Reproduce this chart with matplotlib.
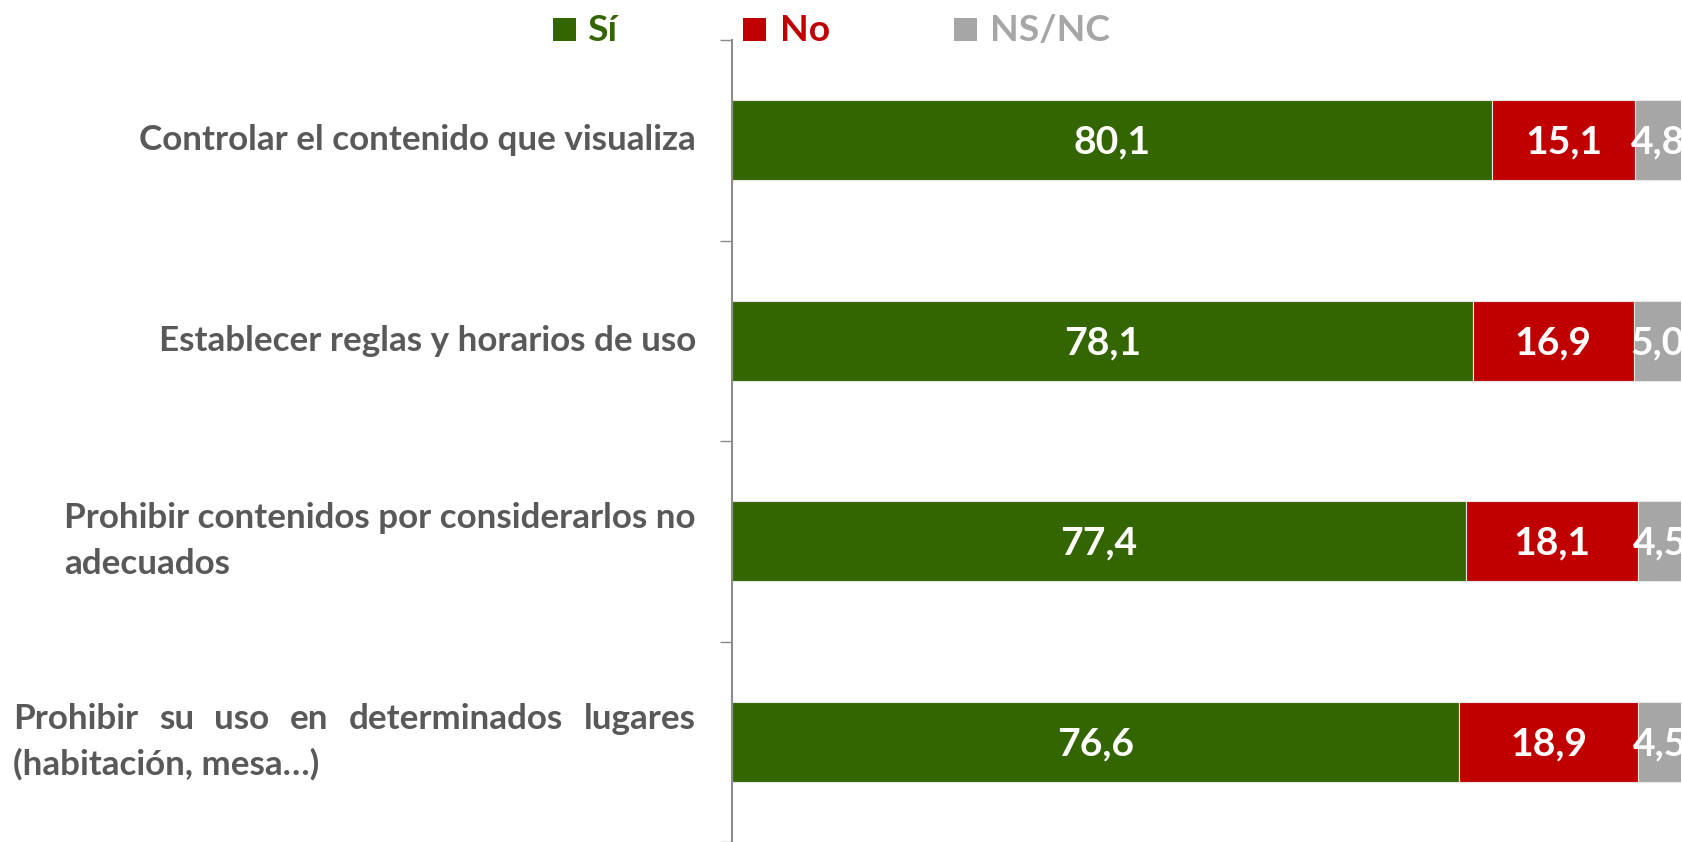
import matplotlib
matplotlib.use("Agg")
import matplotlib.pyplot as plt
import matplotlib.transforms as mtrans
from matplotlib.patches import Rectangle

# ---------------- data ----------------
label_lines = [
    ["Controlar el contenido que visualiza"],
    ["Establecer reglas y horarios de uso"],
    ["Prohibir contenidos por considerarlos no", "adecuados"],
    ["Prohibir su uso en determinados lugares", "(habitación, mesa…)"],
]
justify_first = [False, False, False, True]
si = [80.1, 78.1, 77.4, 76.6]
no = [15.1, 16.9, 18.1, 18.9]
nsnc = [4.8, 5.0, 4.5, 4.5]
series_names = ["Sí", "No", "NS/NC"]

# ---------------- style ----------------
W, H, DPI = 1682, 842, 100
FONT = "Lato"
C_SI, C_NO, C_NS = "#336600", "#C00000", "#A6A6A6"
C_LAB = "#595959"
C_AX = "#8C8C8C"

fig = plt.figure(figsize=(W / DPI, H / DPI), dpi=DPI)
renderer = fig.canvas.get_renderer()
ID = mtrans.IdentityTransform()


def text_width(s, size):
    t = fig.text(0, 0, s, fontsize=size, family=FONT, fontweight="bold")
    w = t.get_window_extent(renderer).width
    t.remove()
    return w


def fit(s, target):
    return 20 * target / text_width(s, 20)


lab_size = fit("Controlar el contenido que visualiza", 556)
val_size = fit("80,1", 72) * 1.08
leg_size = fit("NS/NC", 114) * 1.05

# ---------------- axes ----------------
ax_left, ax_right = 731.7, 1681.0
ax_top = 40.0
ax = fig.add_axes([ax_left / W, 0, (ax_right - ax_left) / W, (H - ax_top) / H])
n = len(si)
y = list(range(n))
left_no = [a for a in si]
left_ns = [a + b for a, b in zip(si, no)]
ec = "#E6E6E6"
ax.barh(y, si, height=0.4, color=C_SI, edgecolor=ec, linewidth=0.8)
ax.barh(y, no, left=left_no, height=0.4, color=C_NO, edgecolor=ec, linewidth=0.8)
ax.barh(y, nsnc, left=left_ns, height=0.4, color=C_NS, edgecolor=ec, linewidth=0.8)
ax.set_xlim(0, 100)
ax.set_ylim(n - 0.5, -0.5)
ax.set_yticks([i - 0.5 for i in range(n + 1)])
ax.set_yticklabels([])
ax.tick_params(axis="y", length=8.6, width=1.0, color=C_AX, direction="out")
ax.xaxis.set_visible(False)
for s in ["top", "right", "bottom"]:
    ax.spines[s].set_visible(False)
ax.spines["left"].set_color(C_AX)
ax.spines["left"].set_linewidth(1.5)
ax.patch.set_alpha(0)

# value labels
digit_h = 27
off = mtrans.offset_copy(ax.transData, fig=fig, x=0, y=-digit_h / 2, units="dots")
for i in range(n):
    segs = [(0, si[i]), (left_no[i], no[i]), (left_ns[i], nsnc[i])]
    for (l, v) in segs:
        ax.text(l + v / 2, i, f"{v:.1f}".replace(".", ","), transform=off,
                ha="center", va="baseline", color="white", fontsize=val_size,
                family=FONT, fontweight="bold")

# ---------------- category labels ----------------
lab_right = 696.0
lab_left_just = 13.0
cap_h = 20
line_gap = 46
for i, lines in enumerate(label_lines):
    cy_disp = ax.transData.transform((0, i))[1]
    nl = len(lines)
    baselines = [cy_disp - cap_h / 2 + (nl - 1) * line_gap / 2 - k * line_gap for k in range(nl)]
    if justify_first[i]:
        words = lines[0].split(" ")
        widths = [text_width(w, lab_size) for w in words]
        gap = (lab_right - lab_left_just - sum(widths)) / (len(words) - 1)
        x = lab_left_just
        for w, ww in zip(words, widths):
            fig.text(x, baselines[0], w, transform=ID, ha="left", va="baseline",
                     fontsize=lab_size, family=FONT, fontweight="bold", color=C_LAB)
            x += ww + gap
        for k in range(1, nl):
            fig.text(lab_left_just, baselines[k], lines[k], transform=ID, ha="left",
                     va="baseline", fontsize=lab_size, family=FONT, fontweight="bold",
                     color=C_LAB)
    else:
        block_w = max(text_width(s, lab_size) for s in lines)
        x0 = lab_right - block_w
        for k, s in enumerate(lines):
            fig.text(x0, baselines[k], s, transform=ID, ha="left", va="baseline",
                     fontsize=lab_size, family=FONT, fontweight="bold", color=C_LAB)

# ---------------- legend ----------------
leg_sq = [553, 743, 954]
leg_tx = [587, 780, 990]
leg_cols = [C_SI, C_NO, C_NS]
sq_top, sq_bot = 18, 41
for name, sx, tx, col in zip(series_names, leg_sq, leg_tx, leg_cols):
    fig.add_artist(Rectangle((sx, H - sq_bot), 23, sq_bot - sq_top, transform=ID,
                             facecolor=col, edgecolor="none"))
    fig.text(tx, H - sq_bot, name, transform=ID, ha="left", va="baseline",
             fontsize=leg_size, family=FONT, fontweight="bold", color=col)

fig.savefig("out.png", dpi=DPI)
